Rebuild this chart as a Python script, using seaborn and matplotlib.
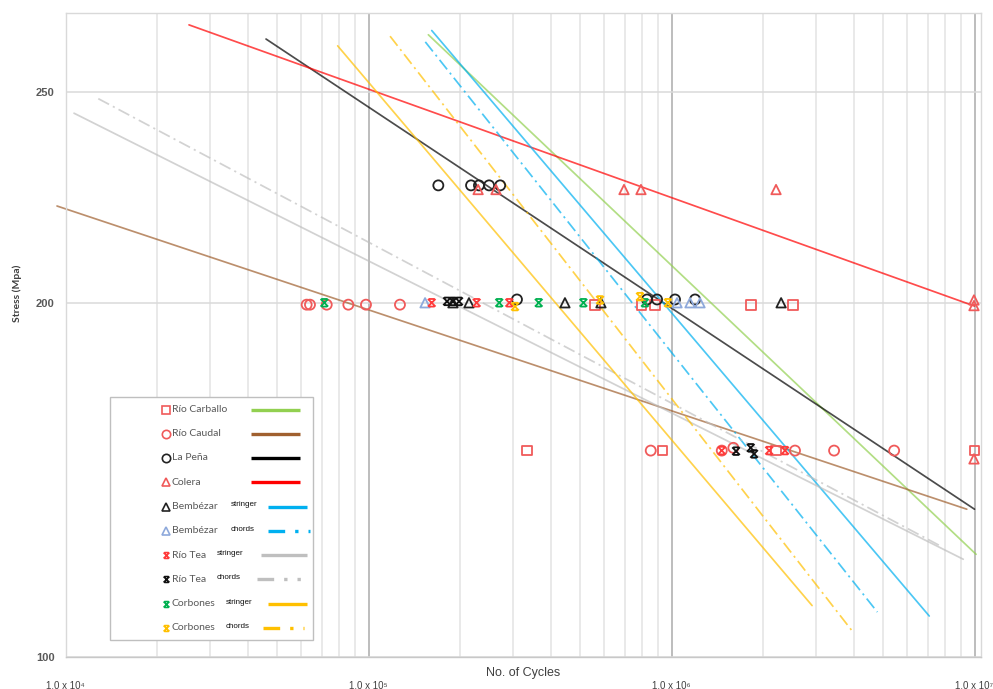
import matplotlib
matplotlib.use('Agg')
import matplotlib.pyplot as plt
import matplotlib.ticker as mticker
from matplotlib.path import Path
from matplotlib.lines import Line2D
from matplotlib.patches import Rectangle
from matplotlib.transforms import Affine2D
import seaborn as sns

sns.set_style('white')
plt.rcParams['font.family'] = ['Lato', 'DejaVu Sans']

# ------------------------------------------------------------------ data
# Río Carballo (squares)
carballo_N = [5.59e5, 7.97e5, 8.82e5, 1.83e6, 2.52e6, 3.33e5, 9.35e5, 2.21e6, 9.98e6]
carballo_S = [199.5, 199.5, 199.5, 199.5, 199.5, 171.0, 171.0, 171.0, 171.0]
carballo_fit_N = [1.576e5, 1.012e7]
carballo_fit_S = [265.7, 153.2]

# Río Caudal (circles)
caudal_N = [6.25e4, 6.41e4, 7.28e4, 8.58e4, 9.81e4, 1.27e5,
            8.54e5, 1.465e6, 1.60e6, 2.556e6, 3.44e6, 5.43e6]
caudal_S = [199.6, 199.6, 199.6, 199.6, 199.6, 199.6,
            171.0, 171.0, 171.5, 171.0, 171.0, 171.0]
caudal_fit_N = [9.375e3, 9.43e6]
caudal_fit_S = [221.6, 160.7]

# La Peña (black circles)
lapena_N = [1.70e5, 2.18e5, 2.315e5, 2.50e5, 2.72e5, 3.09e5, 8.30e5, 8.96e5, 1.027e6, 1.196e6]
lapena_S = [226.5, 226.5, 226.5, 226.5, 226.5, 200.7, 200.7, 200.7, 200.7, 200.7]
lapena_fit_N = [4.59e4, 1.0e7]
lapena_fit_S = [264.5, 160.7]

# Colera (red triangles)
colera_N = [2.30e5, 2.635e5, 6.97e5, 7.93e5, 2.213e6, 9.96e6, 9.96e6, 9.96e6]
colera_S = [225.5, 225.5, 225.5, 225.5, 225.5, 200.6, 199.4, 169.5]
colera_fit_N = [2.556e4, 1.0e7]
colera_fit_S = [268.5, 199.3]

# Bembézar stringer (black triangles)
bemb_str_N = [1.90e5, 2.146e5, 4.45e5, 5.85e5, 2.30e6]
bemb_str_S = [200.0, 200.0, 200.0, 200.0, 200.0]
bemb_str_fit_N = [1.617e5, 7.09e6]
bemb_str_fit_S = [266.9, 143.5]

# Bembézar chords (light blue triangles)
bemb_cho_N = [1.537e5, 1.043e6, 1.151e6, 1.242e6]
bemb_cho_S = [200.0, 200.0, 200.0, 200.0]
bemb_cho_fit_N = [1.54e5, 4.78e6]
bemb_cho_fit_S = [263.7, 144.1]

# Río Tea stringer (red x)
tea_str_N = [1.617e5, 2.275e5, 2.915e5, 1.465e6, 2.10e6, 2.37e6]
tea_str_S = [200.0, 200.0, 200.0, 171.0, 171.0, 171.0]
tea_str_fit_N = [1.067e4, 9.18e6]
tea_str_fit_S = [244.5, 152.4]

# Río Tea chords (black x)
tea_cho_N = [1.816e5, 1.90e5, 1.99e5, 1.633e6, 1.826e6, 1.873e6]
tea_cho_S = [200.3, 200.3, 200.3, 170.9, 171.5, 170.4]
tea_cho_fit_N = [1.283e4, 7.69e6]
tea_cho_fit_S = [248.3, 154.6]

# Corbones stringer (green x)
corb_str_N = [7.15e4, 2.70e5, 3.646e5, 5.12e5, 8.17e5]
corb_str_S = [200.0, 200.0, 200.0, 200.0, 200.0]
corb_str_fit_N = [7.91e4, 2.91e6]
corb_str_fit_S = [262.6, 145.1]

# Corbones chords (yellow x)
corb_cho_N = [3.045e5, 5.81e5, 7.87e5, 9.73e5]
corb_cho_S = [199.2, 200.6, 201.3, 200.0]
corb_cho_fit_N = [1.178e5, 4.00e6]
corb_cho_fit_S = [265.3, 140.9]

# axis ticks
xtick_values = [1e4, 1e5, 1e6, 1e7]
xtick_labels = ['1,0 x 10\u2074', '1,0 x 10\u2075', '1,0 x 10\u2076', '1,0 x 10\u2077']
ytick_values = [137.4, 200, 250]
ytick_labels = ['100', '200', '250']

# ------------------------------------------------------------------ styles
xcap = Path([(-1, -1), (1, 1), (-1, 1), (1, -1), (-0.75, 1), (0.75, 1), (-0.75, -1), (0.75, -1)],
            [Path.MOVETO, Path.LINETO] * 4)

RED_M = '#F05A5A'
series = [
    # name, suffix, N, S, marker, mcolor, fitN, fitS, lcolor, dashed
    ('Río Carballo', '', carballo_N, carballo_S, 's', RED_M, carballo_fit_N, carballo_fit_S, '#92D050', False),
    ('Río Caudal', '', caudal_N, caudal_S, 'o', RED_M, caudal_fit_N, caudal_fit_S, '#A0602F', False),
    ('La Peña', '', lapena_N, lapena_S, 'o', '#222222', lapena_fit_N, lapena_fit_S, '#000000', False),
    ('Colera', '', colera_N, colera_S, '^', RED_M, colera_fit_N, colera_fit_S, '#FF0000', False),
    ('Bembézar', 'stringer', bemb_str_N, bemb_str_S, '^', '#222222', bemb_str_fit_N, bemb_str_fit_S, '#00B0F0', False),
    ('Bembézar', 'chords', bemb_cho_N, bemb_cho_S, '^', '#8EA9DB', bemb_cho_fit_N, bemb_cho_fit_S, '#00B0F0', True),
    ('Río Tea', 'stringer', tea_str_N, tea_str_S, xcap, '#FF3B3B', tea_str_fit_N, tea_str_fit_S, '#BFBFBF', False),
    ('Río Tea', 'chords', tea_cho_N, tea_cho_S, xcap, '#111111', tea_cho_fit_N, tea_cho_fit_S, '#BFBFBF', True),
    ('Corbones', 'stringer', corb_str_N, corb_str_S, xcap, '#00B050', corb_str_fit_N, corb_str_fit_S, '#FFC000', False),
    ('Corbones', 'chords', corb_cho_N, corb_cho_S, xcap, '#FFC000', corb_cho_fit_N, corb_cho_fit_S, '#FFC000', True),
]

# ------------------------------------------------------------------ figure
W, H = 993, 689
fig = plt.figure(figsize=(W / 100, H / 100), dpi=100)
fig.patch.set_facecolor('white')
ax = fig.add_axes([65.5 / W, 1 - 657 / H, (981 - 65.5) / W, (657 - 13) / H])
ax.set_xscale('log')
ax.set_yscale('log')

for name, suf, N, S, mk, mc, fN, fS, lc, dashed in series:
    ls = (0, (7, 2.5, 1.2, 2.5)) if dashed else '-'
    sns.lineplot(x=fN, y=fS, ax=ax, color=lc, linewidth=1.25, alpha=0.7,
                 linestyle=ls, estimator=None, sort=False, zorder=2,
                 clip_on=(name != 'Río Caudal'))
for name, suf, N, S, mk, mc, fN, fS, lc, dashed in series:
    size = 30 if isinstance(mk, Path) else (52 if mk == 'o' else 46)
    sns.scatterplot(x=N, y=S, ax=ax, marker=mk, s=size, color=mc,
                    facecolors='none', edgecolor=mc, linewidth=1.3, zorder=3, clip_on=False)

ax.set_xlim(1e4, 1.0506e7)
ax.set_ylim(137.4, 271.9)

ax.xaxis.set_major_locator(mticker.FixedLocator(xtick_values))
ax.xaxis.set_minor_locator(mticker.LogLocator(base=10, subs=range(2, 10), numticks=20))
ax.xaxis.set_minor_formatter(mticker.NullFormatter())
ax.set_xticks(xtick_values)
ax.set_xticklabels(xtick_labels)
ax.yaxis.set_minor_locator(mticker.NullLocator())
ax.set_yticks(ytick_values)
ax.set_yticklabels(ytick_labels)

ax.tick_params(axis='both', which='both', length=0)
ax.tick_params(axis='x', pad=17)
ax.tick_params(axis='y', pad=8)
for lab in ax.get_xticklabels():
    lab.set_fontfamily(['Liberation Sans Narrow', 'Liberation Sans', 'DejaVu Sans'])
    lab.set_fontsize(7)
    lab.set_color('#404040')
for lab in ax.get_yticklabels():
    lab.set_fontfamily(['Liberation Sans', 'DejaVu Sans'])
    lab.set_fontsize(8)
    lab.set_fontweight('bold')
    lab.set_color('#595959')

ax.grid(False)
ax.xaxis.grid(True, which='major', color='#BDBDBD', linewidth=1.4, zorder=0)
ax.xaxis.grid(True, which='minor', color='#E3E3E3', linewidth=1.1, zorder=0)
ax.yaxis.grid(True, which='major', color='#DADADA', linewidth=1.1, zorder=0)
ax.set_axisbelow(True)
for sp in ax.spines.values():
    sp.set_color('#D9D9D9')
    sp.set_linewidth(1.0)
ax.spines['bottom'].set_color('#C8C8C8')

ax.set_xlabel('No. of Cycles', fontsize=9, color='#404040',
              fontfamily=['Liberation Sans Narrow', 'Liberation Sans', 'DejaVu Sans'])
ax.xaxis.label.set_va('center')
ax.xaxis.set_label_coords(0.5, -16 / 644)
ax.set_ylabel('Stress (Mpa)', fontsize=7.5, fontweight='bold', color='#404040')
ax.yaxis.label.set_va('center')
ax.yaxis.set_label_coords((17 - 65.5) / 915.5, 1 - (293 - 13) / 644)

# ------------------------------------------------------------------ legend (custom, marker-text-line layout)
px = Affine2D().scale(1 / W, -1 / H).translate(0, 1) + fig.transFigure
box = Rectangle((110, 397), 203, 243, transform=px, facecolor='white',
                edgecolor='#BFBFBF', linewidth=1.0, zorder=5)
fig.add_artist(box)
sub_x = {'Bembézar': 231, 'Río Tea': 217, 'Corbones': 226}
line_x = {'': (251, 300), 'stringer': (268, 307)}
for i, (name, suf, N, S, mk, mc, fN, fS, lc, dashed) in enumerate(series):
    yy = 409.5 + i * 24.25
    ms = 4.2 if isinstance(mk, Path) else 6
    fig.add_artist(Line2D([166], [yy], transform=px, marker=mk, markersize=ms,
                          markerfacecolor='none', markeredgecolor=mc, markeredgewidth=1.2,
                          linestyle='none', zorder=6))
    fig.text(172 / W, 1 - yy / H, name, fontsize=7.5, color='#595959', va='center', ha='left', zorder=6)
    if suf:
        fig.text(sub_x[name] / W, 1 - (yy - 1.5) / H, suf, fontsize=5.8, color='#111111',
                 va='center', ha='left', fontfamily=['Liberation Sans', 'DejaVu Sans'], zorder=6)
    if dashed:
        x0, x1 = {'Bembézar': (268, 310), 'Río Tea': (257, 302), 'Corbones': (263, 304)}[name]
        ls = (0, (5, 3, 1, 3, 1, 3))
    else:
        x0, x1 = line_x[suf] if suf else (251, 300)
        if suf == 'stringer' and name == 'Río Tea':
            x0 = 261
        ls = '-'
    fig.add_artist(Line2D([x0, x1], [yy, yy], transform=px, color=lc, linewidth=2.4,
                          linestyle=ls, solid_capstyle='butt', zorder=6))

fig.savefig('out.png', dpi=100, facecolor='white')
